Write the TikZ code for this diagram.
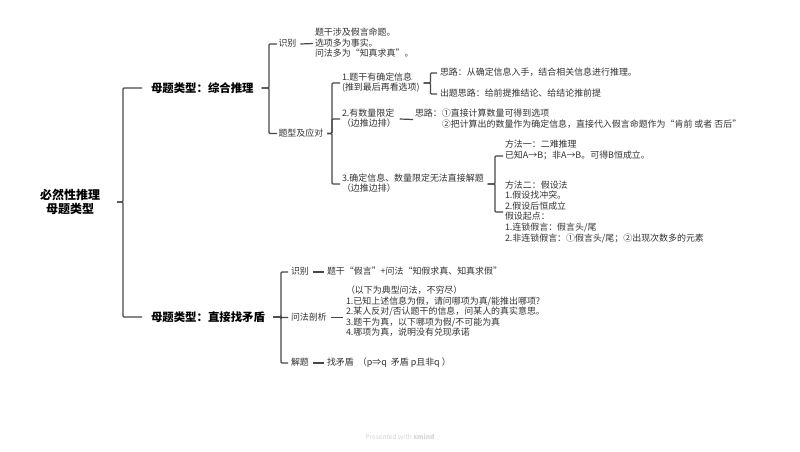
\documentclass[tikz,border=0pt]{standalone}
\usepackage{fontspec}
\setmainfont{Noto Sans CJK SC}
\newcommand{\tstrut}{\rule[-2.56pt]{0pt}{10.96pt}}
\tikzset{
  conn/.style={draw=black!72,line width=1.2pt,rounded corners=1pt},
  connmain/.style={conn,line width=1.35pt},
  txt/.style={anchor=west,inner sep=0pt,outer sep=0pt,align=left,text=black!80,
    font=\fontsize{8.95}{10.6}\selectfont,
    execute at begin node=\tstrut,execute at end node=\tstrut},
  topic/.style={anchor=west,inner sep=0pt,outer sep=0pt,text=black,
    font=\fontsize{11.4}{14}\selectfont\bfseries},
  rootnode/.style={inner sep=0pt,outer sep=0pt,align=center,text=black,
    font=\fontsize{12}{14}\selectfont\bfseries},
  foot/.style={inner sep=0pt,text=black!17,font=\fontsize{6.6}{8}\selectfont}
}
\newcommand{\branch}[6]{\draw[#1] ([xshift=#2]#3.east) -- (#3.east -| #4) |- ([xshift=-#5]#6.west);}
\newcommand{\hlink}[4]{\draw[conn] ([xshift=#3]#1.east) -- ([xshift=-#4]#2.west);}
\begin{document}
\begin{tikzpicture}[x=1pt,y=-1pt]
\useasboundingbox (0,0) rectangle (800,451);
\fill[white] (0,0) rectangle (800,451);

\coordinate (T0) at (123,0);
\coordinate (T1) at (269,0);
\coordinate (T2) at (332,0);
\coordinate (T3) at (430.5,0);
\coordinate (T4) at (495,0);
\coordinate (T5) at (281,0);

\node[rootnode] (root) at (70,202) {必然性推理\\母题类型};
\node[topic] (zh) at (151,88) {母题类型：综合推理};
\node[topic] (zj) at (151,317) {母题类型：直接找矛盾};

\node[txt] (sb) at (278.5,44) {识别};
\node[txt] (sbt) at (315,43.5) {题干涉及假言命题。\\选项多为事实。\\问法多为“知真求真”。};
\node[txt] (tx) at (278.5,133.5) {题型及应对};

\node[txt] (a1) at (342,83) {1.题干有确定信息\\(推到最后再看选项)};
\node[txt] (a2) at (342,119) {2.有数量限定\\（边推边排）};
\node[txt] (a3) at (342,184) {3.确定信息、数量限定无法直接解题\\（边推边排）};

\node[txt] (b1) at (440,73) {思路：从确定信息入手，结合相关信息进行推理。};
\node[txt] (b2) at (440,94) {出题思路：给前提推结论、给结论推前提};
\node[txt] (b3) at (415,119.5) {思路：①直接计算数量可得到选项\\\hspace*{26.85pt}②把计算出的数量作为确定信息，直接代入假言命题作为“肯前 或者 否后”};
\node[txt] (c1) at (505,156) {方法一：二难推理\\已知A→B；非A→B。可得B恒成立。\\~};
\node[txt] (c2) at (505,212) {方法二：假设法\\1.假设找冲突。\\2.假设后恒成立\\假设起点：\\1.连锁假言：假言头/尾\\2.非连锁假言：①假言头/尾；②出现次数多的元素};

\node[txt] (d1) at (291,272) {识别};
\node[txt] (d2) at (291,317.5) {问法剖析};
\node[txt] (d3) at (291,363) {解题};
\node[txt] (e1) at (327,272) {题干“假言”+问法“知假求真、知真求假”};
\node[txt] (e2) at (346,317.5) {（以下为典型问法，不穷尽）\\1.已知上述信息为假，请问哪项为真/能推出哪项?\\2.某人反对/否认题干的信息，问某人的真实意思。\\3.题干为真，以下哪项为假/不可能为真\\4.哪项为真，说明没有兑现承诺\\~};
\node[txt] (e3) at (327,363) {找矛盾 \ （p⇒q \ 矛盾 p且非q ）};

\node[foot] (ft) at (400,437) {Presented with \textbf{xmind}};

% root trunk
\branch{connmain}{17}{root}{T0}{9}{zh}
\branch{connmain}{17}{root}{T0}{9}{zj}
% comprehensive reasoning
\branch{conn}{8}{zh}{T1}{1.5}{sb}
\branch{conn}{8}{zh}{T1}{1.5}{tx}
\hlink{sb}{sbt}{4}{2}
\branch{conn}{4}{tx}{T2}{2}{a1}
\branch{conn}{4}{tx}{T2}{2}{a2}
\branch{conn}{4}{tx}{T2}{2}{a3}
\branch{conn}{4}{a1}{T3}{3}{b1}
\branch{conn}{4}{a1}{T3}{3}{b2}
\hlink{a2}{b3}{4}{2}
\branch{conn}{4}{a3}{T4}{2}{c1}
\branch{conn}{4}{a3}{T4}{2}{c2}
% direct contradiction
\branch{conn}{8}{zj}{T5}{3}{d1}
\branch{conn}{8}{zj}{T5}{3}{d2}
\branch{conn}{8}{zj}{T5}{3}{d3}
\hlink{d1}{e1}{4}{3}
\hlink{d2}{e2}{4}{3}
\hlink{d3}{e3}{4}{3}
\end{tikzpicture}
\end{document}
